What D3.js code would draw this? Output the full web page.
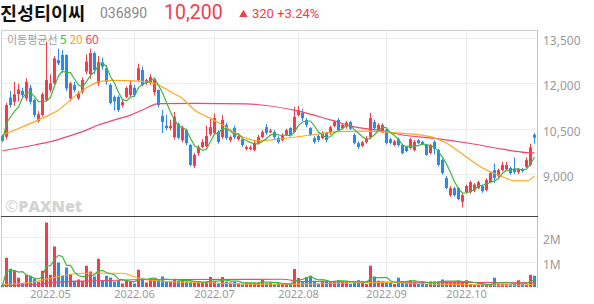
<!DOCTYPE html>
<html>
<head>
<meta charset="utf-8">
<script src="https://cdn.jsdelivr.net/npm/d3@7"></script>
<style>
  body { margin: 0; background: #fff; }
  svg { display: block; font-family: "Noto Sans CJK KR", "Noto Sans", sans-serif; }
</style>
</head>
<body>
<svg id="chart" width="594" height="304"></svg>
<script>
// daily candles, 2022-04-14 .. 2022-10-28
const opens = [
  10250,10230,11530,11390,11640,11750,11500,11855,11450,10750,
  10950,11450,11780,12000,12770,12940,12940,11500,11940,11500,
  11720,12390,12300,13000,12000,12700,12500,11950,11550,11550,
  11280,11550,11610,11850,12110,12440,12010,12010,11700,11780,
  10920,10600,10520,10220,10650,10120,10450,9960,9270,9690,
  9890,9920,10320,10350,10390,10220,10620,10120,10520,10150,
  10150,9830,9820,9790,10030,10220,10550,10380,10390,10190,
  10120,10290,10520,10390,10950,11020,10790,10520,10190,10260,
  10190,10360,10360,10590,10790,10520,10560,10720,10290,10020,
  9930,10050,10220,10720,10450,10380,10460,10150,9960,10150,
  9960,9890,9860,9790,10120,10060,9960,9690,10060,9790,
  9460,8870,8300,8530,8530,8080,8400,8400,8450,8530,
  8600,8470,8730,9130,8930,9130,9150,9200,9180,9060,
  9150,9230,9300,10300
];
const highs = [
  10300,11350,11750,12060,11980,11850,12170,11950,11500,11080,
  11700,13380,12300,12900,13150,13100,12950,12050,12050,11750,
  12200,12950,13150,13050,12900,12850,12600,12000,11600,11600,
  11450,11900,12110,11950,12650,12550,12150,12300,12150,11800,
  11120,10950,10800,11050,10700,10600,10500,10000,9700,9950,
  10150,10600,10850,11000,10450,10950,10700,10280,10600,10320,
  10200,9950,9950,10100,10300,10450,10650,10500,10450,10250,
  10350,10500,10550,11220,11250,11150,10850,10550,10250,10320,
  10420,10400,10600,10780,10850,10680,10750,10750,10350,10080,
  10100,10250,11020,10800,10680,10680,10500,10200,10130,10200,
  10000,9930,10200,10120,10150,10100,10000,10000,10120,9830,
  9500,8930,8600,8580,8570,8350,8650,8780,8700,8780,
  8650,8850,9080,9350,9180,9400,9400,9250,9550,9200,
  9200,9550,10000,10350
];
const lows = [
  10050,10150,11200,11250,11400,11550,11420,11300,10870,10700,
  10900,11400,11700,11950,12600,12350,11750,11400,11700,11450,
  11650,12300,12150,12300,11900,12450,11950,11300,11100,11050,
  11200,11500,11550,11550,12050,11900,11950,11950,11600,11200,
  10350,10450,10450,10150,10150,10050,9950,9250,9200,9600,
  9850,9880,10250,10300,10000,10150,10120,10050,10150,10100,
  9900,9780,9780,9750,9980,10180,10300,10350,10150,10000,
  10080,10250,10250,10350,10900,10750,10550,10250,10000,10050,
  10150,10050,10300,10550,10400,10480,10500,10450,9980,9820,
  9900,10000,10150,10450,10400,10350,9980,9980,9920,9900,
  9650,9720,9820,9750,9980,9950,9600,9650,9650,9250,
  8980,8500,8250,8250,8130,7900,8350,8350,8400,8500,
  8380,8430,8700,8700,8880,9080,9100,8980,9000,9000,
  9050,9200,9250,10000
];
const closes = [
  10100,11280,11280,11640,11800,11610,12050,11390,10950,10975,
  11640,12110,12000,12830,12660,12440,11830,12000,11780,11670,
  12110,12720,13000,12440,12700,12550,12050,11350,11400,11120,
  11380,11850,11950,11610,12500,11940,12110,12210,12110,11280,
  10720,10520,10590,10890,10200,10520,10020,9300,9630,9890,
  10060,10260,10550,10850,10060,10790,10190,10220,10220,10250,
  9960,9890,9880,10030,10220,10390,10360,10440,10220,10060,
  10290,10450,10290,10890,11120,10850,10620,10290,10060,10120,
  10360,10120,10550,10720,10450,10620,10700,10500,10020,9890,
  10050,10180,10850,10520,10620,10620,10020,10030,10080,9960,
  9690,9760,10150,10060,10020,9990,9630,9960,9830,9300,
  9030,8540,8530,8300,8170,8300,8600,8730,8650,8730,
  8430,8800,9030,8870,9130,9300,9300,9030,9060,9160,
  9100,9460,9880,10200
];
// volume, millions of shares
const volumes = [
  0.07,1.17,0.73,0.65,0.37,0.15,0.49,0.45,0.33,0.2,
  0.65,2.58,0.49,1.62,0.98,0.45,0.78,0.52,0.25,0.3,
  0.24,0.85,0.62,0.42,1.13,0.27,0.45,0.38,0.22,0.27,
  0.14,0.26,0.22,0.14,0.69,0.3,0.18,0.35,0.3,0.3,
  0.42,0.22,0.22,0.33,0.25,0.27,0.22,0.22,0.18,0.18,
  0.18,0.22,0.4,0.22,0.15,0.4,0.22,0.18,0.22,0.15,
  0.1,0.18,0.18,0.18,0.18,0.28,0.15,0.18,0.1,0.15,
  0.12,0.12,0.1,0.72,0.36,0.22,0.4,0.45,0.25,0.12,
  0.25,0.25,0.22,0.25,0.27,0.22,0.22,0.12,0.22,0.27,
  0.22,0.12,0.85,0.42,0.25,0.22,0.18,0.18,0.12,0.37,
  0.22,0.22,0.27,0.22,0.12,0.22,0.12,0.22,0.22,0.22,
  0.3,0.22,0.22,0.22,0.25,0.18,0.27,0.12,0.08,0.08,
  0.12,0.08,0.12,0.37,0.12,0.12,0.12,0.12,0.12,0.27,
  0.12,0.1,0.49,0.45
];

// 20/60 day averages: [candle index, value]
const ma20Price = [[0,10290],[3,10450],[9,10790],[14,11120],[19,11670],[24,12050],[27,12100],
  [34,12070],[38,12000],[42,11720],[45,11500],[48,11120],[52,10840],[55,10620],[61,10180],
  [64,10100],[69,10150],[77,10290],[84,10400],[91,10420],[100,10345],[107,10235],[111,10015],
  [117,9460],[121,9130],[125,8910],[128,8770],[131,8770],[133,8930]];
const ma60Price = [[0,9770],[8,9960],[12,10070],[16,10230],[20,10400],[24,10620],[28,10790],
  [32,10950],[35,11120],[39,11330],[48,11340],[61,11320],[74,11080],[82,10790],[88,10560],
  [94,10450],[100,10290],[108,10180],[117,10010],[125,9820],[131,9710],[133,9700]];
const ma20Vol = [[0,0.1],[8,0.21],[12,0.35],[16,0.48],[20,0.55],[25,0.55],[30,0.55],[33,0.41],
  [35,0.32],[42,0.21],[51,0.17],[64,0.11],[77,0.12],[91,0.18],[98,0.18],[103,0.14],
  [116,0.1],[129,0.07],[133,0.11]];
const ma60Vol = [[0,0.06],[10,0.12],[11,0.17],[24,0.25],[40,0.3],[70,0.31],[75,0.22],
  [100,0.19],[133,0.17]];

const monthLabels = ['2022.05', '2022.06', '2022.07', '2022.08', '2022.09', '2022.10'];
const monthStarts = [12, 33, 53, 74, 96, 116];
const priceTicks = [9000, 10500, 12000, 13500];
const volumeTicks = [1, 2];

const UP = '#f23d4c', DOWN = '#2b8be8';
const C5 = '#3cb93c', C20 = '#ffa526', C60 = '#f3466a';

const svg = d3.select('#chart');
const n = closes.length;

const x = d3.scaleBand().domain(d3.range(n)).range([0.5, 536.5]);
const cx = i => x(i) + x.bandwidth() / 2;
const yP = d3.scaleLinear().domain([7610, 13765]).range([216, 30]);
const yV = d3.scaleLinear().domain([0, 2.8]).range([287, 217]);

const movingAvg = (arr, k) => arr.map((_, i) => {
  const s = arr.slice(Math.max(0, i - k + 1), i + 1);
  return d3.mean(s);
});

// header
const NUM_FONT = 'Roboto, "Liberation Sans", sans-serif';
const head = svg.append('g');
head.append('text').attr('x', 0).attr('y', 20).attr('font-size', 18.5).attr('font-weight', 700)
  .attr('fill', '#111').text('진성티이씨');
head.append('text').attr('x', 100).attr('y', 18).attr('font-size', 14).attr('fill', '#8a8a8a')
  .attr('font-family', NUM_FONT).text('036890');
head.append('text').attr('x', 164).attr('y', 19).attr('font-size', 19.5).attr('fill', UP)
  .attr('font-family', NUM_FONT).text('10,200');
head.append('text').attr('x', 239).attr('y', 17).attr('font-size', 9).attr('fill', UP).text('▲');
head.append('text').attr('x', 252).attr('y', 18).attr('font-size', 13).attr('fill', UP)
  .attr('font-family', NUM_FONT).text('320 +3.24%');

// grid
const grid = svg.append('g').attr('stroke', '#ececec').attr('shape-rendering', 'crispEdges');
grid.selectAll('.gx').data(monthStarts).join('line')
  .attr('x1', d => cx(d)).attr('x2', d => cx(d)).attr('y1', 30).attr('y2', 288);
grid.selectAll('.gy').data(priceTicks).join('line')
  .attr('x1', 1).attr('x2', 537).attr('y1', d => Math.round(yP(d)) + 0.5).attr('y2', d => Math.round(yP(d)) + 0.5);
grid.selectAll('.gv').data(volumeTicks).join('line')
  .attr('x1', 1).attr('x2', 537).attr('y1', d => Math.round(yV(d)) + 0.5).attr('y2', d => Math.round(yV(d)) + 0.5);

// frame
const frame = svg.append('g').attr('shape-rendering', 'crispEdges');
frame.append('line').attr('x1', 1).attr('x2', 537).attr('y1', 30.5).attr('y2', 30.5).attr('stroke', '#cfcfcf');
frame.append('line').attr('x1', 1.5).attr('x2', 1.5).attr('y1', 30).attr('y2', 288).attr('stroke', '#cfcfcf');
frame.append('line').attr('x1', 537.5).attr('x2', 537.5).attr('y1', 30).attr('y2', 288).attr('stroke', '#c4c4c4');
frame.append('line').attr('x1', 1).attr('x2', 538).attr('y1', 216.5).attr('y2', 216.5).attr('stroke', '#444');

// watermark
const wm = svg.append('text').attr('x', 5).attr('y', 212).attr('fill', '#d4d4d4').attr('font-size', 16)
  .attr('font-family', '"Open Sans", "Noto Sans", sans-serif');
wm.append('tspan').text('©');
wm.append('tspan').attr('font-weight', 800).text('PAXNet');

// legend
const lg = svg.append('text').attr('x', 7).attr('y', 44).attr('font-size', 11);
lg.append('tspan').attr('fill', '#a0a0a0').text('이동평균선 ');
lg.append('tspan').attr('fill', C5).attr('font-size', 12).text('5 ');
lg.append('tspan').attr('fill', C20).attr('font-size', 12).text('20 ');
lg.append('tspan').attr('fill', C60).attr('font-size', 12).text('60');

// candles
const idx = d3.range(n);
const colorOf = i => closes[i] >= opens[i] ? UP : DOWN;
const candles = svg.append('g');
candles.selectAll('line').data(idx).join('line')
  .attr('x1', cx).attr('x2', cx)
  .attr('y1', i => yP(highs[i])).attr('y2', i => yP(lows[i]))
  .attr('stroke', colorOf).attr('stroke-width', 1);
candles.selectAll('rect').data(idx).join('rect')
  .attr('x', i => cx(i) - 1.5).attr('width', 3)
  .attr('y', i => yP(Math.max(opens[i], closes[i])))
  .attr('height', i => Math.max(1, Math.abs(yP(opens[i]) - yP(closes[i]))))
  .attr('fill', colorOf);

// volume bars
svg.append('g').selectAll('rect').data(idx).join('rect')
  .attr('x', i => cx(i) - 1.5).attr('width', 3)
  .attr('y', i => yV(volumes[i])).attr('height', i => yV(0) - yV(volumes[i]))
  .attr('fill', colorOf);

// moving average lines
const linePrice = d3.line().x(d => cx(d[0])).y(d => yP(d[1])).curve(d3.curveMonotoneX);
const lineVol = d3.line().x(d => cx(d[0])).y(d => yV(d[1])).curve(d3.curveMonotoneX);
const ma5P = movingAvg(closes, 5).map((v, i) => [i, v]);
const ma5V = movingAvg(volumes, 5).map((v, i) => [i, v]);

const mas = svg.append('g').attr('fill', 'none').attr('stroke-width', 1.2);
mas.append('path').attr('d', linePrice(ma60Price)).attr('stroke', C60);
mas.append('path').attr('d', linePrice(ma20Price)).attr('stroke', C20);
mas.append('path').attr('d', d3.line().x(d => cx(d[0])).y(d => yP(d[1]))(ma5P)).attr('stroke', C5);
mas.append('path').attr('d', lineVol(ma60Vol)).attr('stroke', C60);
mas.append('path').attr('d', lineVol(ma20Vol)).attr('stroke', C20);
mas.append('path').attr('d', d3.line().x(d => cx(d[0])).y(d => yV(d[1]))(ma5V)).attr('stroke', C5);

// axes
const fmt = d3.format(',');
const yAxis = svg.append('g').attr('transform', 'translate(538,0)')
  .call(d3.axisRight(yP).tickValues(priceTicks).tickFormat(fmt).tickSize(0).tickPadding(5));
const vAxis = svg.append('g').attr('transform', 'translate(538,0)')
  .call(d3.axisRight(yV).tickValues(volumeTicks).tickFormat(d => d + 'M').tickSize(0).tickPadding(5));
const xAxis = svg.append('g').attr('transform', 'translate(0,287)')
  .call(d3.axisBottom(x).tickValues(monthStarts).tickFormat((d, k) => monthLabels[k]).tickSize(0).tickPadding(3));

[yAxis, vAxis, xAxis].forEach(g => {
  g.select('.domain').remove();
  g.selectAll('text').attr('fill', '#9a9a9a').attr('font-size', 12)
    .attr('font-family', '"Noto Sans", sans-serif');
});
yAxis.selectAll('text').attr('dy', '0.55em');
vAxis.selectAll('text').attr('dy', '0.55em');
xAxis.selectAll('text').attr('font-size', 11);
</script>
</body>
</html>
